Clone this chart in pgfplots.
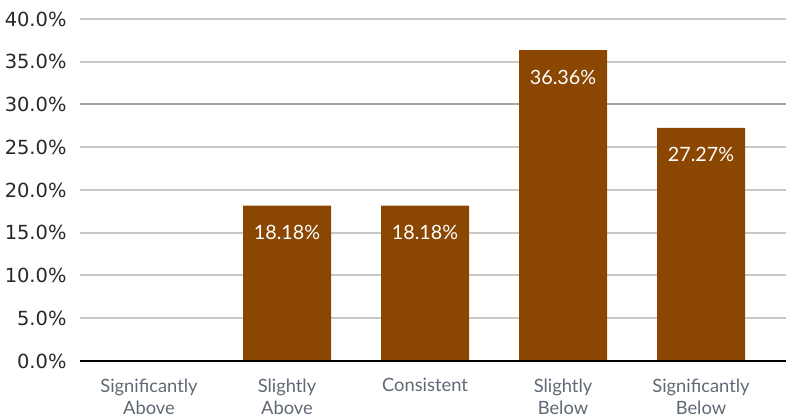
\documentclass[border=0pt]{standalone}
\usepackage{pgfplots}
\pgfplotsset{compat=1.18}
\usepackage{fontspec}
\setmainfont{Lato}
\newfontfamily\tickfont{DejaVu Sans}
\definecolor{barbrown}{RGB}{139,71,2}
\definecolor{gridgray}{RGB}{200,200,200}
\definecolor{griddark}{RGB}{165,165,165}
\definecolor{labgray}{RGB}{95,104,116}
\definecolor{tickgray}{RGB}{40,40,40}
\begin{document}
\begin{tikzpicture}
\useasboundingbox (0,0) rectangle (791bp,419bp);
\begin{axis}[
  at={(80bp,58bp)}, anchor=south west,
  scale only axis,
  width=706bp, height=342bp,
  ybar, bar width=88bp,
  xmin=-0.5, xmax=4.616,
  ymin=0, ymax=40,
  ytick={0,5,...,40},
  xtick={0,1,2,3,4},
  xticklabels={Significantly\\Above, Slightly\\Above, Consistent, Slightly\\Below, Significantly\\Below},
  xticklabel style={align=center, font=\fontsize{18.4}{23}\selectfont, text=labgray, anchor=north, yshift=-14bp},
  yticklabel style={font=\tickfont\fontsize{19.5}{23}\selectfont, text=tickgray, xshift=-10bp},
  /pgf/number format/assume math mode=true,
  yticklabel={\pgfmathprintnumber[fixed,fixed zerofill,precision=1]{\tick}\%},
  ymajorgrids,
  grid style={gridgray, line width=2bp},
  major tick length=0pt,
  axis line style={draw=none},
  clip=false,
  nodes near coords={\pgfmathprintnumber[fixed,fixed zerofill,precision=2]{\pgfplotspointmeta}\%},
  every node near coord/.append style={font=\fontsize{19.8}{23}\selectfont, text=white, anchor=center, yshift=-27bp},
]
\draw[griddark, line width=2bp] (axis cs:-0.5,30) -- (axis cs:4.616,30);
\addplot[fill=barbrown, draw=none] coordinates {(1,18.18) (2,18.18) (3,36.36) (4,27.27)};
\draw[black, line width=2.2bp] (axis cs:-0.5,0) -- (axis cs:4.616,0);
\end{axis}
\end{tikzpicture}
\end{document}
